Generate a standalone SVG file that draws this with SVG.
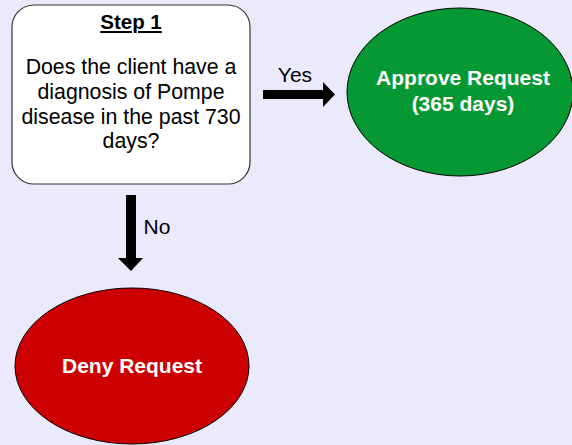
<svg xmlns="http://www.w3.org/2000/svg" width="572" height="445" viewBox="0 0 572 445">
<style>
text{font-family:"Liberation Sans",Arial,sans-serif;}
.q{font-size:21.3px;fill:#000;text-anchor:middle}
.s{font-size:20.5px;font-weight:bold;fill:#000;text-anchor:middle;text-decoration:underline}
.w{font-size:21px;font-weight:bold;fill:#fff;text-anchor:middle}
.l{font-size:21px;fill:#000;text-anchor:middle}
</style>
<rect width="572" height="445" fill="#EAEAFC"/>
<g id="step1">
<rect x="12" y="5" width="238" height="179" rx="22" ry="22" fill="#fff" stroke="#333" stroke-width="1.2"/>
<text class="s" x="131" y="29">Step 1</text>
<text class="q" x="131" y="74">Does the client have a</text>
<text class="q" x="131" y="99">diagnosis of Pompe</text>
<text class="q" x="131" y="124">disease in the past 730</text>
<text class="q" x="131" y="148">days?</text>
</g>
<g id="approve">
<ellipse cx="460" cy="92" rx="113" ry="84" fill="#069933" stroke="#000" stroke-width="1"/>
<text class="w" x="463" y="85">Approve Request</text>
<text class="w" x="463" y="111">(365 days)</text>
</g>
<g id="deny">
<ellipse cx="132" cy="366" rx="117" ry="78" fill="#CC0000" stroke="#000" stroke-width="1"/>
<text class="w" x="132" y="373">Deny Request</text>
</g>
<g id="connectors">
<polygon points="263,90 323,90 323,82 335,94.5 323,107 323,99 263,99" fill="#000"/>
<text class="l" x="295" y="82">Yes</text>
<polygon points="126,195 136,195 136,258 143,258 131,271 118,258 126,258" fill="#000"/>
<text class="l" x="157" y="234">No</text>
</g>
</svg>
